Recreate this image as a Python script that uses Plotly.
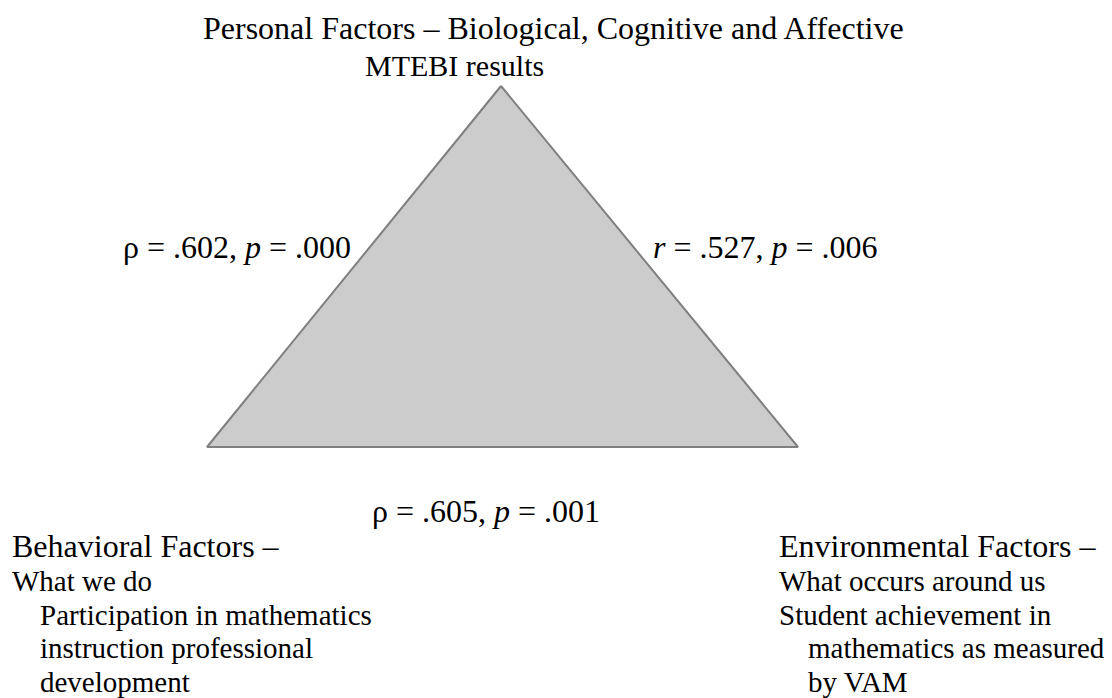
import plotly.graph_objects as go

# triangle corners (diagram units = pixels of the original picture)
tri_x = [501, 207, 798, 501]
tri_y = [86, 447, 447, 86]

# free-standing labels: text, left x, centre y, font size
labels = [
    ("Personal Factors – Biological, Cognitive and Affective", 203, 28, 32),
    ("MTEBI results", 365, 65, 30),
    ("ρ = .602, <i>p</i> = .000", 123, 247, 32),
    ("<i>r</i> = .527, <i>p</i> = .006", 653, 247, 32),
    ("ρ = .605, <i>p</i> = .001", 372, 511, 32),
]

left_lines = ["Behavioral Factors –", "What we do", "Participation in mathematics",
              "instruction professional", "development"]
left_x = [12, 12, 40, 40, 40]
right_lines = ["Environmental Factors –", "What occurs around us", "Student achievement in",
               "mathematics as measured", "by VAM"]
right_x = [779, 779, 779, 808, 808]
line_y = [546, 581, 615, 648, 682]
line_size = [32, 29, 29, 29, 29]

fig = go.Figure()
fig.add_trace(go.Scatter(
    x=tri_x, y=tri_y, mode="lines", fill="toself",
    fillcolor="#cccccc", line=dict(color="#7f7f7f", width=2),
    hoverinfo="skip", showlegend=False,
))

font = "Liberation Serif, Times New Roman, serif"


def add_text(text, x, y, size):
    fig.add_annotation(x=x, y=y, text=text, showarrow=False, xanchor="left",
                       yanchor="middle", borderpad=0, borderwidth=0,
                       font=dict(family=font, size=size, color="black"))


for text, x, y, size in labels:
    add_text(text, x, y, size)
for text, x, y, size in zip(left_lines, left_x, line_y, line_size):
    add_text(text, x, y, size)
for text, x, y, size in zip(right_lines, right_x, line_y, line_size):
    add_text(text, x, y, size)

# the page has an 8px body margin, so shift the ranges to keep picture pixels
fig.update_xaxes(range=[8, 1120], visible=False, fixedrange=True)
fig.update_yaxes(range=[706, 8], visible=False, fixedrange=True)
fig.update_layout(
    width=1112, height=698, margin=dict(l=0, r=0, t=0, b=0),
    plot_bgcolor="white", paper_bgcolor="white",
)
fig.write_html("out.html")
